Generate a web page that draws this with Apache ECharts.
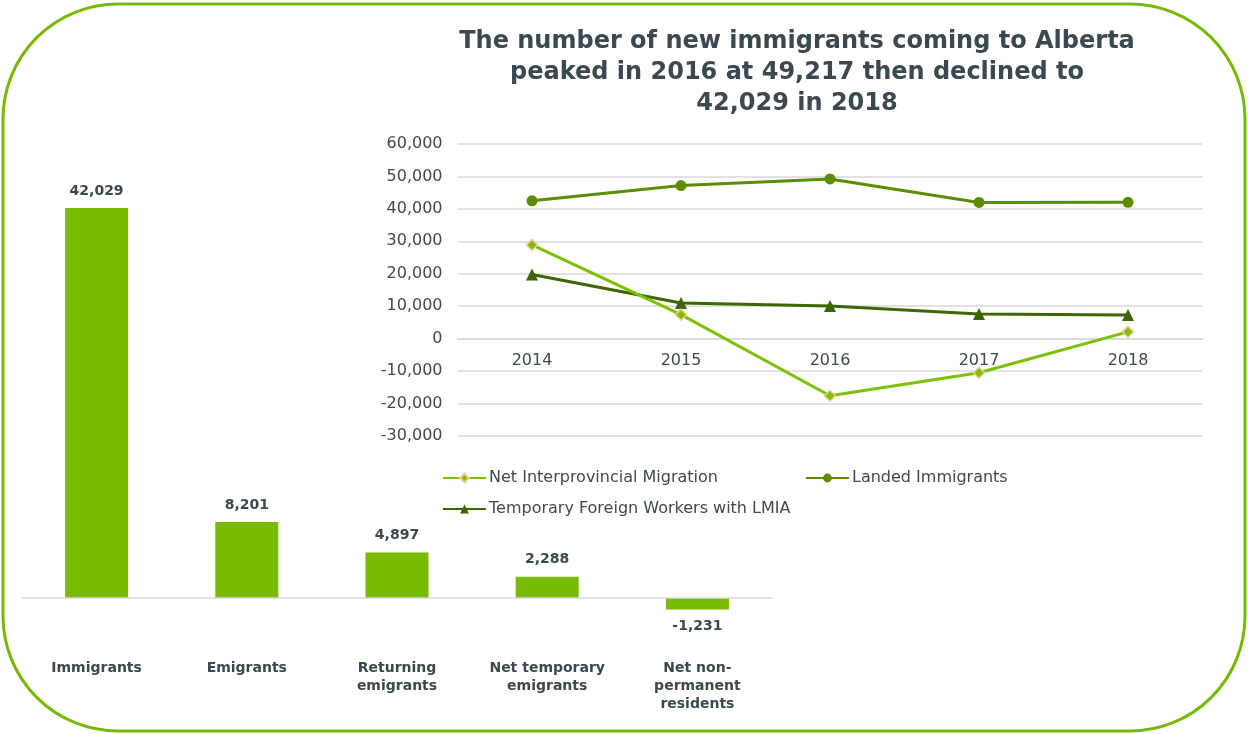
<!DOCTYPE html>
<html>
<head>
<meta charset="utf-8">
<script src="https://cdn.jsdelivr.net/npm/echarts@6/dist/echarts.min.js"></script>
<style>
  html, body { margin: 0; padding: 0; background: #fff; }
  #chart { width: 1248px; height: 734px; }
</style>
</head>
<body>
<div id="chart"></div>
<script>
// Components of Alberta's international migration, 2018
const barCategories = ['Immigrants', 'Emigrants', 'Returning\nemigrants', 'Net temporary\nemigrants', 'Net non-\npermanent\nresidents'];
const barValues = [42029, 8201, 4897, 2288, -1231];

// Migration trends, 2014-2018
const years = ['2014', '2015', '2016', '2017', '2018'];
const netInterprovincial = [28900, 7400, -17600, -10500, 2100];
const landedImmigrants = [42500, 47200, 49217, 42000, 42029];
const tempForeignWorkers = [19800, 11000, 10100, 7600, 7300];
const yTicks = [-30000, 60000, 10000]; // min, max, step

const TEXT = '#3b4850';
const FONT = '"DejaVu Sans", Verdana, sans-serif';
const fmt = v => v.toLocaleString('en-US');

const chart = echarts.init(document.getElementById('chart'), null, { renderer: 'canvas' });

chart.setOption({
  animation: false,
  backgroundColor: '#fff',
  textStyle: { fontFamily: FONT },
  title: {
    text: 'The number of new immigrants coming to Alberta\npeaked in 2016 at 49,217 then declined to\n42,029 in 2018',
    left: 797,
    top: 26,
    padding: 0,
    textAlign: 'center',
    textStyle: { fontFamily: FONT, fontSize: 24, fontWeight: 'bold', color: TEXT, lineHeight: 31 }
  },
  graphic: [{
    type: 'rect',
    shape: { x: 3, y: 4, width: 1242, height: 727, r: 115 },
    style: { fill: 'none', stroke: '#79b800', lineWidth: 3 },
    silent: true,
    z: 100
  }],
  legend: [{
    data: ['Net Interprovincial Migration', 'Landed Immigrants'],
    left: 437, top: 465,
    itemWidth: 43, itemHeight: 11, itemGap: 87,
    textStyle: { fontFamily: FONT, fontSize: 16, color: '#3f4a50', padding: [0, 0, 0, -2] }
  }, {
    data: ['Temporary Foreign Workers with LMIA'],
    left: 437, top: 496,
    itemWidth: 43, itemHeight: 11,
    textStyle: { fontFamily: FONT, fontSize: 16, color: '#3f4a50', padding: [0, 0, 0, -2] }
  }],
  grid: [
    { left: 21.5, right: 475.5, top: 180.4, bottom: 89.6 },
    { left: 457.5, right: 45.5, top: 144, bottom: 298 }
  ],
  xAxis: [{
    gridIndex: 0,
    type: 'category',
    data: barCategories,
    axisLine: { show: false, onZero: false },
    axisTick: { show: false },
    axisLabel: {
      margin: 15,
      interval: 0,
      fontFamily: FONT, fontSize: 14, fontWeight: 'bold', color: TEXT, lineHeight: 18
    }
  }, {
    gridIndex: 1,
    type: 'category',
    data: years,
    position: 'bottom',
    offset: -97.3,
    axisLine: { show: true, onZero: false, lineStyle: { color: '#d9d9d9', width: 1.5 } },
    axisTick: { show: false },
    axisLabel: { margin: 14, fontFamily: FONT, fontSize: 16, color: '#3f4a50' }
  }],
  yAxis: [{
    gridIndex: 0,
    type: 'value',
    min: -5000,
    max: 45000,
    show: false
  }, {
    gridIndex: 1,
    type: 'value',
    min: yTicks[0],
    max: yTicks[1],
    interval: yTicks[2],
    axisLine: { show: false },
    axisTick: { show: false },
    axisLabel: { margin: 15, fontFamily: FONT, fontSize: 16, color: '#3f4a50', formatter: v => fmt(v) },
    splitLine: { lineStyle: { color: '#d9d9d9', width: 1.5 } }
  }],
  series: [{
    type: 'bar',
    xAxisIndex: 0,
    yAxisIndex: 0,
    data: barValues,
    barWidth: 63,
    itemStyle: { color: '#78bb00' },
    label: {
      show: true,
      position: 'outside',
      distance: 10,
      formatter: p => fmt(p.value),
      fontFamily: FONT, fontSize: 14, fontWeight: 'bold', color: TEXT
    },
    markLine: {
      silent: true,
      symbol: 'none',
      label: { show: false },
      lineStyle: { color: '#d9d9d9', width: 1.5, type: 'solid' },
      data: [{ yAxis: 0 }]
    }
  }, {
    name: 'Net Interprovincial Migration',
    type: 'line',
    xAxisIndex: 1,
    yAxisIndex: 1,
    data: netInterprovincial,
    symbol: 'diamond',
    symbolSize: 11,
    lineStyle: { color: '#7cc000', width: 3 },
    itemStyle: { color: '#7cc000', borderColor: '#f2c7a0', borderWidth: 1.5 },
    z: 4
  }, {
    name: 'Landed Immigrants',
    type: 'line',
    xAxisIndex: 1,
    yAxisIndex: 1,
    data: landedImmigrants,
    symbol: 'circle',
    symbolSize: 11,
    lineStyle: { color: '#5b8d00', width: 3 },
    itemStyle: { color: '#5b8d00' },
    z: 3
  }, {
    name: 'Temporary Foreign Workers with LMIA',
    type: 'line',
    xAxisIndex: 1,
    yAxisIndex: 1,
    data: tempForeignWorkers,
    symbol: 'triangle',
    symbolSize: 12,
    lineStyle: { color: '#3d6600', width: 3 },
    itemStyle: { color: '#3d6600' },
    z: 3
  }]
});
</script>
</body>
</html>
